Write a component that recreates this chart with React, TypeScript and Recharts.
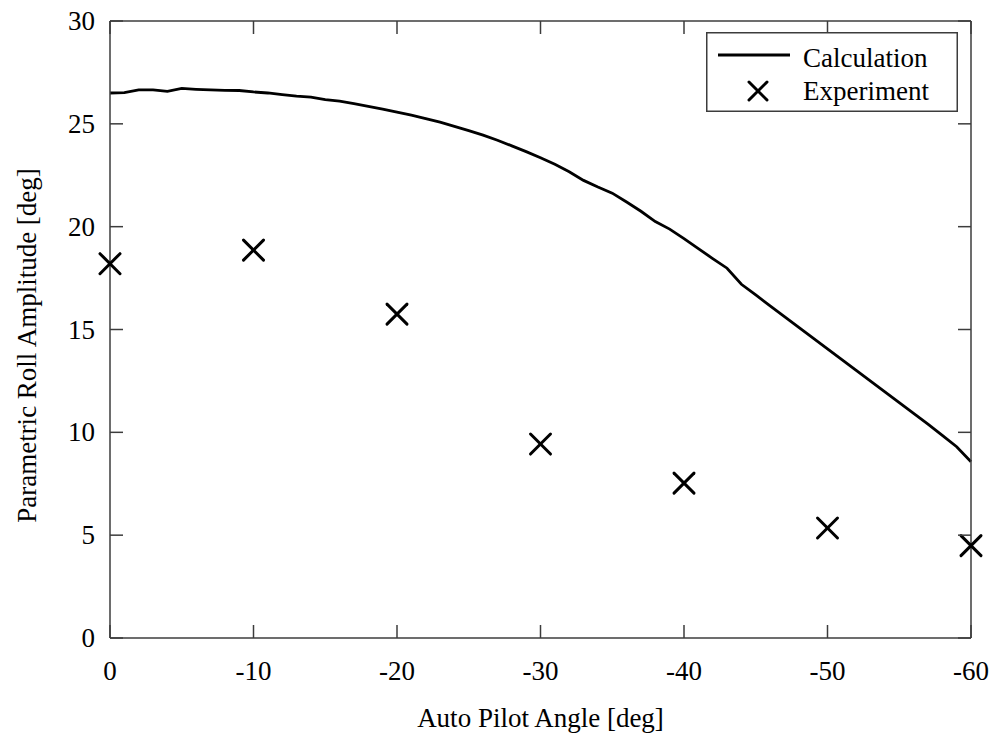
import { ComposedChart, Line, Scatter, XAxis, YAxis, Legend } from 'recharts';

// page has an 8px default body margin, drop it so the chart sits at 0,0
document.body.style.margin = '0';

const FONT = '"Liberation Serif", "Times New Roman", serif';
const FRAME = '#3c3c3c';

// calculation curve, every 1 deg
const calcAngles = [
  0, -1, -2, -3, -4, -5, -6, -7, -8, -9, -10, -11, -12, -13, -14, -15, -16, -17, -18, -19, -20,
  -21, -22, -23, -24, -25, -26, -27, -28, -29, -30, -31, -32, -33, -34, -35, -36, -37, -38, -39, -40,
  -41, -42, -43, -44, -45, -46, -47, -48, -49, -50, -51, -52, -53, -54, -55, -56, -57, -58, -59, -60,
];
const calcAmps = [
  26.5, 26.52, 26.65, 26.65, 26.58, 26.72, 26.68, 26.65, 26.63, 26.62, 26.55,
  26.5, 26.42, 26.35, 26.3, 26.18, 26.1, 25.98, 25.85, 25.72, 25.57,
  25.42, 25.25, 25.08, 24.88, 24.67, 24.45, 24.2, 23.93, 23.65, 23.35,
  23.03, 22.67, 22.25, 21.93, 21.63, 21.2, 20.75, 20.25, 19.88, 19.42,
  18.93, 18.45, 17.98, 17.2, 16.68, 16.15, 15.63, 15.1, 14.58, 14.06,
  13.54, 13.01, 12.49, 11.97, 11.44, 10.92, 10.4, 9.85, 9.3, 8.57,
];

// experiment points
const expAngles = [0, -10, -20, -30, -40, -50, -60];
const expAmps = [18.2, 18.86, 15.75, 9.43, 7.53, 5.35, 4.49];

const xTicks = [0, -10, -20, -30, -40, -50, -60];
const yTicks = [0, 5, 10, 15, 20, 25, 30];

const calcData = calcAngles.map((angle, i) => ({ angle, amp: calcAmps[i] }));
const expData = expAngles.map((angle, i) => ({ angle, amp: expAmps[i] }));

const TICK_LEN = 13;

const BottomTick = ({ x, y, payload }: any) => (
  <g>
    <line x1={x} y1={y} x2={x} y2={y - TICK_LEN} stroke={FRAME} strokeWidth={1.5} />
    <text x={x} y={y + 42} textAnchor="middle" fontFamily={FONT} fontSize={27} fill="#000">
      {payload.value}
    </text>
  </g>
);

const TopTick = ({ x, y }: any) => (
  <line x1={x} y1={y} x2={x} y2={y + TICK_LEN} stroke={FRAME} strokeWidth={1.5} />
);

const LeftTick = ({ x, y, payload }: any) => (
  <g>
    <line x1={x} y1={y} x2={x + TICK_LEN} y2={y} stroke={FRAME} strokeWidth={1.5} />
    <text x={x - 15} y={y + 9} textAnchor="end" fontFamily={FONT} fontSize={27} fill="#000">
      {payload.value}
    </text>
  </g>
);

const RightTick = ({ x, y }: any) => (
  <line x1={x} y1={y} x2={x - TICK_LEN} y2={y} stroke={FRAME} strokeWidth={1.5} />
);

const Cross = ({ cx, cy, size = 9 }: any) => (
  <g stroke="#000" strokeWidth={3} strokeLinecap="round">
    <line x1={cx - size} y1={cy - size} x2={cx + size} y2={cy + size} />
    <line x1={cx - size} y1={cy + size} x2={cx + size} y2={cy - size} />
  </g>
);

const LegendBox = () => (
  <svg width={252} height={80} style={{ display: 'block' }}>
    <rect x={0.75} y={0.75} width={250.5} height={78.5} fill="#fff" stroke={FRAME} strokeWidth={1.5} />
    <line x1={12} y1={23} x2={84} y2={23} stroke="#000" strokeWidth={2.8} />
    <text x={97} y={35} fontFamily={FONT} fontSize={27} fill="#000">Calculation</text>
    <Cross cx={52} cy={59} size={9} />
    <text x={97} y={68} fontFamily={FONT} fontSize={27} fill="#000">Experiment</text>
  </svg>
);

const XLabel = ({ viewBox }: any) => (
  <text
    x={viewBox.x + viewBox.width / 2}
    y={viewBox.y + 89}
    textAnchor="middle"
    fontFamily={FONT}
    fontSize={27}
    fill="#000"
  >
    Auto Pilot Angle [deg]
  </text>
);

const YLabel = ({ viewBox }: any) => {
  const cx = 36;
  const cy = viewBox.y + viewBox.height / 2 + 16;
  return (
    <text
      x={cx}
      y={cy}
      transform={`rotate(-90, ${cx}, ${cy})`}
      textAnchor="middle"
      fontFamily={FONT}
      fontSize={27}
      fill="#000"
    >
      Parametric Roll Amplitude [deg]
    </text>
  );
};

export default function App() {
  return (
    <div style={{ width: 994, height: 735, background: '#fff' }}>
      <ComposedChart width={994} height={735} data={calcData} margin={{ top: 0, right: 0, bottom: 0, left: 0 }}>
        <XAxis
          xAxisId="bottom"
          dataKey="angle"
          type="number"
          domain={[-60, 0]}
          reversed
          ticks={xTicks}
          interval={0}
          height={97}
          tickSize={0}
          tickMargin={0}
          tickLine={false}
          axisLine={{ stroke: FRAME, strokeWidth: 1.5 }}
          tick={<BottomTick />}
          label={{ content: <XLabel /> }}
        />
        <XAxis
          xAxisId="top"
          orientation="top"
          dataKey="angle"
          type="number"
          domain={[-60, 0]}
          reversed
          ticks={xTicks}
          interval={0}
          height={21}
          tickSize={0}
          tickMargin={0}
          tickLine={false}
          axisLine={{ stroke: FRAME, strokeWidth: 1.5 }}
          tick={<TopTick />}
        />
        <YAxis
          yAxisId="left"
          dataKey="amp"
          type="number"
          domain={[0, 30]}
          ticks={yTicks}
          interval={0}
          width={110}
          tickSize={0}
          tickMargin={0}
          tickLine={false}
          axisLine={{ stroke: FRAME, strokeWidth: 1.5 }}
          tick={<LeftTick />}
          label={{ content: <YLabel /> }}
        />
        <YAxis
          yAxisId="right"
          orientation="right"
          dataKey="amp"
          type="number"
          domain={[0, 30]}
          ticks={yTicks}
          interval={0}
          width={23}
          tickSize={0}
          tickMargin={0}
          tickLine={false}
          axisLine={{ stroke: FRAME, strokeWidth: 1.5 }}
          tick={<RightTick />}
        />
        <Line
          xAxisId="bottom"
          yAxisId="left"
          type="linear"
          dataKey="amp"
          stroke="#000"
          strokeWidth={2.8}
          dot={false}
          isAnimationActive={false}
        />
        <Scatter
          xAxisId="bottom"
          yAxisId="left"
          data={expData}
          dataKey="amp"
          shape={(p: any) => <Cross cx={p.cx} cy={p.cy} size={10} />}
          isAnimationActive={false}
        />
        <Legend
          layout="horizontal"
          verticalAlign="middle"
          align="center"
          content={<LegendBox />}
          wrapperStyle={{ position: 'absolute', top: 32, left: 706, width: 252, height: 80 }}
        />
      </ComposedChart>
    </div>
  );
}
